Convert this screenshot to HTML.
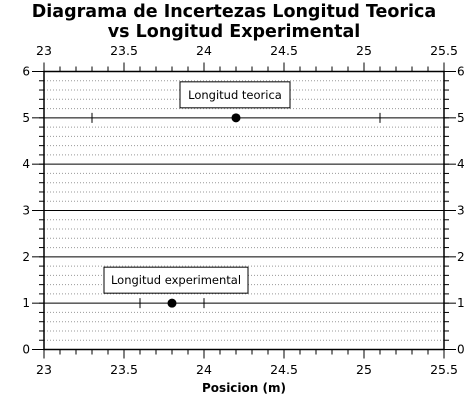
<!DOCTYPE html>
<html><head><meta charset="utf-8"><style>
body{margin:0;background:#fff;}
svg text{font-family:"DejaVu Sans","Liberation Sans",sans-serif;fill:#000;}
</style></head><body>
<svg id="c" width="474" height="404">
<text x="234" y="17" text-anchor="middle" font-size="17.5" font-weight="bold">Diagrama de Incertezas Longitud Teorica</text>
<text x="234" y="37" text-anchor="middle" font-size="17.5" font-weight="bold">vs Longitud Experimental</text>
<text x="244" y="392" text-anchor="middle" font-size="12" font-weight="bold">Posicion (m)</text>
<g id="g"></g>
</svg>
<script>
const labels=["Longitud teorica","Longitud experimental"];
const xVals=[24.2,23.8];
const yVals=[5,1];
const errLow=[23.3,23.6];
const errHigh=[25.1,24.0];
const xTicks=[23,23.5,24,24.5,25,25.5];
const yTicks=[0,1,2,3,4,5,6];
const L=44,R=444,T=71.5,B=349.5;
const X=v=>L+(v-23)/2.5*(R-L);
const Y=v=>B-v/6*(B-T);
const g=document.getElementById('g');
const ns='http://www.w3.org/2000/svg';
function mk(t,a,name){const e=document.createElementNS(ns,t);for(const k in a)e.setAttribute(k,a[k]);


g.appendChild(e);return e;}
for(let i=1;i<30;i++){if(i%5==0)continue;const y=Y(i*0.2);
mk('line',{x1:L,x2:R,y1:y,y2:y,stroke:'#999','stroke-dasharray':'1,2'},'minor-gridline');}
for(const v of yTicks){const y=Y(v);
mk('line',{x1:L,x2:R,y1:y,y2:y,stroke:'#000'},'major-gridline');
mk('line',{x1:L-12,x2:L,y1:y,y2:y,stroke:'#000'},'y-major-tick');
mk('line',{x1:R,x2:R+12,y1:y,y2:y,stroke:'#000'},'y-right-major-tick');
const t=mk('text',{x:L-14,y:y+4,'text-anchor':'end','font-size':12},'y-tick-label');t.textContent=v;
const t2=mk('text',{x:R+13,y:y+4,'font-size':12},'y-right-tick-label');t2.textContent=v;}
for(let i=0;i<=30;i++){const y=Y(i*0.2);
mk('line',{x1:L-5,x2:L,y1:y,y2:y,stroke:'#000'},'y-minor-tick');
mk('line',{x1:R,x2:R+5,y1:y,y2:y,stroke:'#000'},'y-right-minor-tick');}
for(let i=0;i<=25;i++){const x=X(23+i*0.1);const big=i%5==0;
mk('line',{x1:x,x2:x,y1:T-(big?9:5),y2:T,stroke:'#000'},'x-top-tick');
mk('line',{x1:x,x2:x,y1:B,y2:B+(big?9:5),stroke:'#000'},'x-bottom-tick');}
for(const v of xTicks){const x=X(v);
const t=mk('text',{x:x,y:55,'text-anchor':'middle','font-size':12.5},'x-top-tick-label');t.textContent=v;
const t2=mk('text',{x:x,y:374,'text-anchor':'middle','font-size':12.5},'x-tick-label');t2.textContent=v;}
mk('rect',{x:L,y:T,width:R-L,height:B-T,fill:'none',stroke:'#000','stroke-width':1.5},'plot-frame');
for(let i=0;i<xVals.length;i++){const y=Y(yVals[i]);
mk('line',{x1:X(errLow[i]),x2:X(errLow[i]),y1:y-5,y2:y+5,stroke:'#000'},'error-cap-low');
mk('line',{x1:X(errHigh[i]),x2:X(errHigh[i]),y1:y-5,y2:y+5,stroke:'#000'},'error-cap-high');
mk('circle',{cx:X(xVals[i]),cy:y,r:4.5,fill:'#000'},'data-point');
const w=i==0?110:144;
const bx=i==0?180:104;
mk('rect',{x:bx,y:y-36,width:w,height:26,fill:'#fff',stroke:'#000'},'point-label-box');
const t=mk('text',{x:bx+w/2,y:y-19,'text-anchor':'middle','font-size':11.5},'point-label');t.textContent=labels[i];}
</script>
</body></html>
